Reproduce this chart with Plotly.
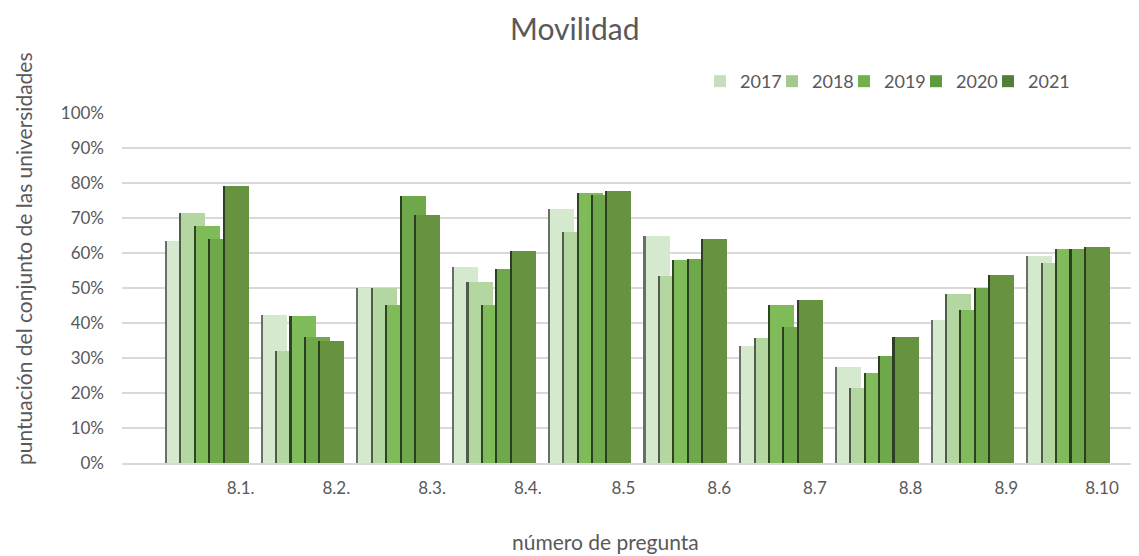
import plotly.graph_objects as go

categories = ["8.1.", "8.2.", "8.3.", "8.4.", "8.5", "8.6", "8.7", "8.8", "8.9", "8.10"]
years = ["2017", "2018", "2019", "2020", "2021"]
v2017 = [0.635, 0.424, 0.501, 0.559, 0.727, 0.650, 0.333, 0.273, 0.409, 0.591]
v2018 = [0.713, 0.321, 0.501, 0.517, 0.661, 0.535, 0.357, 0.215, 0.483, 0.571]
v2019 = [0.677, 0.420, 0.451, 0.451, 0.772, 0.580, 0.451, 0.258, 0.436, 0.612]
v2020 = [0.639, 0.361, 0.764, 0.555, 0.765, 0.584, 0.390, 0.306, 0.501, 0.612]
v2021 = [0.791, 0.349, 0.709, 0.605, 0.778, 0.639, 0.465, 0.361, 0.536, 0.617]
series = [v2017, v2018, v2019, v2020, v2021]

face_colors = ["#D5E9CE", "#B4D7A1", "#80BB59", "#6FA84B", "#67923F"]
edge_colors = ["#6A6E68", "#4F5C49", "#2F4424", "#2C3F21", "#2D3E22"]
legend_colors = ["#C6DDBE", "#A3C990", "#71B04B", "#5F9B3E", "#517F34"]

GROUP_START = 0.449   # offset of first bar's left edge inside a category slot
STEP = 0.1505         # shift between consecutive years
WIDTH = 0.272         # bar width
EDGE = 0.022          # dark left edge width
LABEL_OFFSET = 1.24   # where the category label sits
N = len(categories)

# page body has an 8px margin; figure is sized/positioned to compensate
W, H = 1131, 548
L, R, T, B = 114, 2, 105, 93
PW, PH = W - L - R, H - T - B


def px(x):
    return (x - L) / PW


def py(y):
    return (H - B - y) / PH


fig = go.Figure()
for i, (yr, vals) in enumerate(zip(years, series)):
    lefts = [k + GROUP_START + i * STEP for k in range(N)]
    fig.add_trace(go.Bar(
        x=[l + WIDTH / 2 for l in lefts], y=vals, width=WIDTH,
        marker=dict(color=face_colors[i], line=dict(width=0)),
        showlegend=False, name=yr, hoverinfo="y+name",
    ))
    fig.add_trace(go.Bar(
        x=[l + EDGE / 2 for l in lefts], y=vals, width=EDGE,
        marker=dict(color=edge_colors[i], line=dict(width=0)),
        showlegend=False, hoverinfo="skip",
    ))

for i, yr in enumerate(years):
    fig.add_trace(go.Bar(x=[None], y=[None], name=yr,
                         marker=dict(color=legend_colors[i], line=dict(width=0)),
                         showlegend=True))
# invisible spacer entry so the last legend label is not clipped
fig.add_trace(go.Bar(x=[None], y=[None], name=" ",
                     marker=dict(color="rgba(0,0,0,0)", line=dict(width=0)),
                     showlegend=True, hoverinfo="skip"))

FONT = "Lato"
GREY = "#595959"

fig.update_layout(
    width=W, height=H,
    barmode="overlay",
    bargap=0,
    plot_bgcolor="white", paper_bgcolor="white",
    margin=dict(l=L, r=R, t=T, b=B, pad=0),
    font=dict(family=FONT, color=GREY, size=16),
    xaxis=dict(
        range=[0, PW / 95.7],
        tickvals=[k + LABEL_OFFSET for k in range(N)],
        ticktext=categories,
        showgrid=False, zeroline=False,
        showline=True, linecolor="#D9D9D9", linewidth=2,
        ticks="", tickfont=dict(size=17, color=GREY),
        ticklabelstandoff=9,
        fixedrange=True,
    ),
    yaxis=dict(
        range=[0, 1.0],
        dtick=0.1, tickformat=".0%",
        showgrid=True, gridcolor="#D9D9D9", gridwidth=2,
        zeroline=False, showline=False,
        ticks="", tickfont=dict(size=17, color=GREY),
        ticklabelstandoff=17,
        fixedrange=True,
    ),
    legend=dict(
        orientation="h",
        x=px(692), y=py(55),
        xanchor="left", yanchor="top",
        font=dict(size=18, color=GREY),
        entrywidth=27, entrywidthmode="pixels",
        bgcolor="rgba(0,0,0,0)",
        traceorder="normal",
        itemclick=False, itemdoubleclick=False,
    ),
    showlegend=True,
    annotations=[
        dict(text="Movilidad", xref="paper", yref="paper",
             x=px(566.5), y=py(20), xanchor="center", yanchor="middle",
             showarrow=False, font=dict(size=30, color=GREY, family=FONT)),
        dict(text="número de pregunta", xref="paper", yref="paper",
             x=px(597), y=py(533), xanchor="center", yanchor="middle",
             showarrow=False, font=dict(size=21, color=GREY, family=FONT)),
        dict(text="puntuación del conjunto de las universidades", xref="paper", yref="paper",
             x=px(15), y=py(251), xanchor="center", yanchor="middle",
             textangle=-90, showarrow=False, font=dict(size=21, color=GREY, family=FONT)),
    ],
)

fig.write_html("out.html")
